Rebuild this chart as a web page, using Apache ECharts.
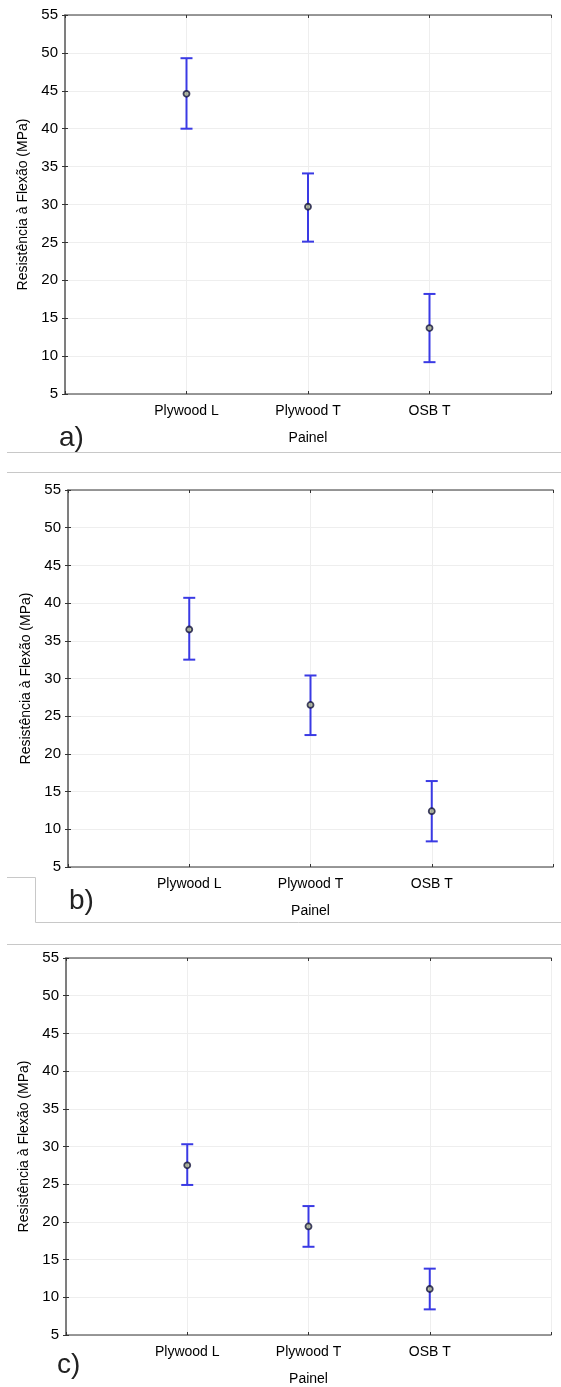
<!DOCTYPE html>
<html>
<head>
<meta charset="utf-8">
<script src="https://cdn.jsdelivr.net/npm/echarts@6/dist/echarts.min.js"></script>
<style>
  html, body { margin: 0; padding: 0; background: #fff; }
  #chart { width: 561px; height: 1387px; }
</style>
</head>
<body>
<div id="chart"></div>
<script>
// Panel categories and labels
const categories = ['Plywood L', 'Plywood T', 'OSB T'];
const panelLabels = ['a)', 'b)', 'c)'];
const xAxisName = 'Painel';
const yAxisName = 'Resistência à Flexão (MPa)';

// Means and confidence limits (MPa) for each panel
const meanA = [44.6, 29.7, 13.7];
const lowA  = [40.0, 25.1, 9.2];
const highA = [49.3, 34.1, 18.2];

const meanB = [36.5, 26.5, 12.4];
const lowB  = [32.5, 22.5, 8.4];
const highB = [40.7, 30.4, 16.4];

const meanC = [27.5, 19.4, 11.1];
const lowC  = [24.9, 16.7, 8.4];
const highC = [30.3, 22.1, 13.8];

const panels = [
  { mean: meanA, low: lowA, high: highA },
  { mean: meanB, low: lowB, high: highB },
  { mean: meanC, low: lowC, high: highC }
];

const FONT = "'Liberation Sans', Arial, sans-serif";
const BAR_COLOR = '#3a3ae4';
const FRAME = '#777777';
const GRIDLINE = '#eeeeee';

const gridBoxes = [
  { left: 65, top: 15,  width: 486, height: 379 },
  { left: 68, top: 490, width: 485, height: 377 },
  { left: 66, top: 958, width: 485, height: 378 }
];

function renderErrorBar(params, api) {
  const x = api.value(0);
  const top = api.coord([x, api.value(2)]);
  const bot = api.coord([x, api.value(1)]);
  const hw = 6;
  const style = { stroke: BAR_COLOR, lineWidth: 2 };
  return {
    type: 'group',
    children: [
      { type: 'line', shape: { x1: top[0], y1: top[1], x2: bot[0], y2: bot[1] }, style },
      { type: 'line', shape: { x1: top[0] - hw, y1: top[1], x2: top[0] + hw, y2: top[1] }, style },
      { type: 'line', shape: { x1: bot[0] - hw, y1: bot[1], x2: bot[0] + hw, y2: bot[1] }, style }
    ]
  };
}

const xAxes = [], yAxes = [], series = [];
panels.forEach((p, k) => {
  const axisLine = { show: true, lineStyle: { color: FRAME, width: 1.5 } };
  const tick = { show: true, inside: true, length: 3, lineStyle: { color: '#333', width: 1 } };
  xAxes.push({
    gridIndex: k, type: 'value', min: 0, max: 4, interval: 1, position: 'bottom',
    axisLine, axisTick: tick,
    axisLabel: {
      margin: 10, color: '#000', fontSize: 14, fontFamily: FONT,
      formatter: v => categories[v - 1] || ''
    },
    splitLine: { show: true, lineStyle: { color: GRIDLINE, width: 1 } },
    name: xAxisName, nameLocation: 'middle', nameGap: 37,
    nameTextStyle: { color: '#000', fontSize: 14, fontFamily: FONT }
  });
  xAxes.push({
    gridIndex: k, type: 'value', min: 0, max: 4, interval: 1, position: 'top',
    axisLine, axisTick: tick, axisLabel: { show: false }, splitLine: { show: false }
  });
  yAxes.push({
    gridIndex: k, type: 'value', min: 5, max: 55, interval: 5, position: 'left',
    axisLine, axisTick: tick,
    axisLabel: { margin: 7, color: '#000', fontSize: 15, fontFamily: FONT },
    splitLine: { show: true, lineStyle: { color: GRIDLINE, width: 1 } },
    name: yAxisName, nameLocation: 'middle', nameGap: 33,
    nameTextStyle: { color: '#000', fontSize: 14, fontFamily: FONT }
  });
  yAxes.push({
    gridIndex: k, type: 'value', min: 5, max: 55, interval: 5, position: 'right',
    axisLine, axisTick: tick, axisLabel: { show: false }, splitLine: { show: false }
  });

  series.push({
    type: 'custom',
    xAxisIndex: 2 * k, yAxisIndex: 2 * k,
    renderItem: renderErrorBar,
    data: categories.map((c, i) => [i + 1, p.low[i], p.high[i]]),
    z: 3
  });
  series.push({
    type: 'scatter',
    xAxisIndex: 2 * k, yAxisIndex: 2 * k,
    symbol: 'circle', symbolSize: 6,
    itemStyle: { color: '#b8c08a', borderColor: '#141440', borderWidth: 1.8 },
    data: categories.map((c, i) => [i + 1, p.mean[i]]),
    z: 4
  });
});

const sepStyle = { stroke: '#c8c8c8', lineWidth: 1 };
const labelStyle = { fontSize: 28, fontWeight: 'normal', color: '#222', fontFamily: FONT };

const option = {
  animation: false,
  backgroundColor: '#fff',
  title: [
    { text: panelLabels[0], left: 54, top: 419, textStyle: labelStyle },
    { text: panelLabels[1], left: 64, top: 882, textStyle: labelStyle },
    { text: panelLabels[2], left: 52, top: 1346, textStyle: labelStyle }
  ],
  grid: gridBoxes.map(g => Object.assign({ containLabel: false }, g)),
  xAxis: xAxes,
  yAxis: yAxes,
  series,
  graphic: [
    { type: 'line', shape: { x1: 7, y1: 452.5, x2: 561, y2: 452.5 }, style: sepStyle, silent: true },
    { type: 'line', shape: { x1: 7, y1: 472.5, x2: 561, y2: 472.5 }, style: sepStyle, silent: true },
    { type: 'polyline', shape: { points: [[7, 877.5], [35.5, 877.5], [35.5, 922.5], [561, 922.5]] }, style: Object.assign({ fill: null }, sepStyle), silent: true },
    { type: 'line', shape: { x1: 7, y1: 944.5, x2: 561, y2: 944.5 }, style: sepStyle, silent: true }
  ]
};

const chart = echarts.init(document.getElementById('chart'), null, { renderer: 'canvas' });
chart.setOption(option);
</script>
</body>
</html>
